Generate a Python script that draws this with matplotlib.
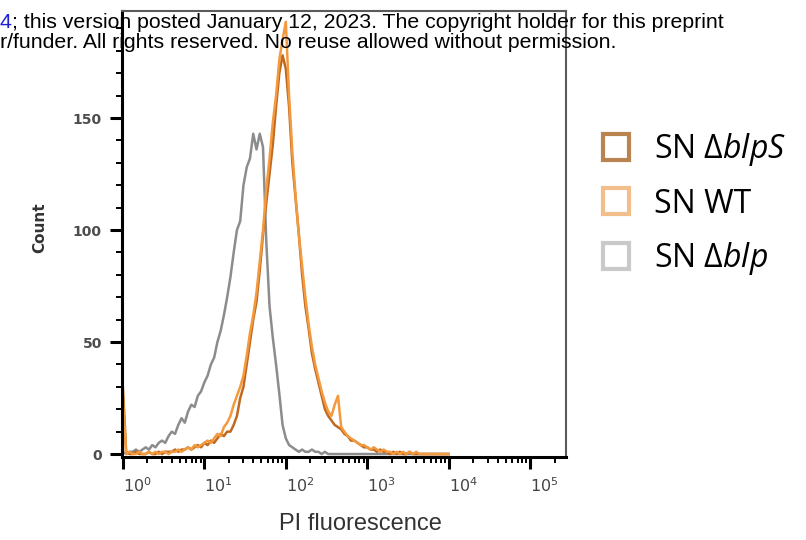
import numpy as np
import matplotlib
matplotlib.use("Agg")
import matplotlib.pyplot as plt
from matplotlib.lines import Line2D
from matplotlib.ticker import MultipleLocator, LogLocator, NullFormatter

# channel centres, log10(PI), one every 0.04 decade
log_channels = np.round(np.arange(0, 4.001, 0.04), 2)

count_blps = [30, 1, 0, 0, 1, 0, 0, 0, 1, 0,
              0, 1, 0, 1, 1, 1, 2, 1, 2, 2,
              3, 2, 3, 4, 3, 5, 4, 6, 5, 7,
              9, 8, 10, 10, 13, 17, 25, 30, 40, 50,
              60, 68, 82, 98, 112, 125, 138, 155, 170, 178,
              172, 155, 130, 114, 98, 80, 66, 56, 45, 38,
              32, 26, 20, 17, 15, 13, 12, 11, 9, 8,
              6, 6, 5, 4, 3, 3, 2, 2, 1, 2,
              1, 1, 0, 1, 0, 1, 0, 0, 1, 0,
              0, 0, 0, 0, 0, 0, 0, 0, 0, 0,
              0]

count_wt = [25, 0, 1, 0, 0, 1, 0, 0, 1, 0,
            1, 0, 1, 1, 0, 1, 1, 2, 1, 2,
            3, 2, 4, 3, 4, 5, 6, 5, 7, 9,
            8, 12, 14, 17, 22, 26, 30, 35, 44, 54,
            62, 72, 86, 100, 118, 132, 148, 160, 176, 185,
            193, 160, 135, 115, 98, 84, 70, 58, 48, 40,
            34, 28, 23, 19, 17, 22, 26, 12, 10, 8,
            7, 6, 5, 4, 4, 3, 2, 3, 2, 1,
            2, 1, 1, 0, 1, 0, 1, 0, 1, 0,
            1, 0, 0, 0, 0, 0, 0, 0, 0, 0,
            0]

count_blp = [1, 0, 1, 1, 2, 1, 2, 3, 2, 4,
             3, 5, 6, 5, 8, 10, 9, 13, 16, 14,
             19, 22, 21, 26, 28, 32, 35, 40, 43, 50,
             55, 62, 70, 79, 90, 100, 104, 120, 128, 132,
             143, 136, 143, 137, 95, 66, 52, 40, 27, 13,
             7, 4, 3, 2, 1, 2, 1, 1, 2, 1,
             1, 0, 1, 0, 0, 0, 0, 0, 0, 0,
             0, 0, 0, 0, 0, 0, 0, 0, 0, 0,
             0, 0, 0, 0, 0, 0, 0, 0, 0, 0,
             0, 0, 0, 0, 0, 0, 0, 0, 0, 0,
             0]

series_names = ["SN Δ$\\mathit{blpS}$", "SN WT", "SN Δ$\\mathit{blp}$"]
line_colors = ["#c0691f", "#f39a3f", "#8c8c8c"]
legend_colors = ["#b98450", "#f2bf8c", "#c9c9c9"]

xtick_values = [1, 10, 100, 1e3, 1e4, 1e5]
xtick_labels = [r"$10^{0}$", r"$10^{1}$", r"$10^{2}$", r"$10^{3}$", r"$10^{4}$", r"$10^{5}$"]
ytick_values = [0, 50, 100, 150]

plt.rcParams["mathtext.rm"] = "Open Sans"
plt.rcParams["mathtext.it"] = "Open Sans:italic"

fig = plt.figure(figsize=(8.06, 5.40), dpi=100)
ax = fig.add_axes([122 / 806, 1 - 456.5 / 540, 444 / 806, 445.5 / 540])

x = 10 ** log_channels
ax.plot(x, count_blp, color=line_colors[2], lw=1.8, zorder=2)
ax.plot(x, count_blps, color=line_colors[0], lw=1.8, zorder=2)
ax.plot(x, count_wt, color=line_colors[1], lw=1.8, zorder=2)

ax.set_xscale("log")
ax.set_xlim(0.975, 2.75e5)
ax.set_ylim(-1.1, 197.8)

ax.set_xticks(xtick_values)
ax.set_xticklabels(xtick_labels, ha="left")
ax.xaxis.set_minor_locator(LogLocator(base=10, subs=np.arange(2, 10), numticks=30))
ax.xaxis.set_minor_formatter(NullFormatter())
ax.set_yticks(ytick_values)
ax.yaxis.set_minor_locator(MultipleLocator(10))

for side in ["left", "bottom"]:
    ax.spines[side].set_linewidth(2.2)
    ax.spines[side].set_color("black")
for side in ["top", "right"]:
    ax.spines[side].set_linewidth(1.5)
    ax.spines[side].set_color("#5a5a5a")

ax.tick_params(which="major", direction="out", length=8.5, width=2.2, color="black")
ax.tick_params(which="minor", direction="out", length=4.2, width=1.4, color="black")
ax.tick_params(axis="y", labelsize=10, labelcolor="#4d4d4d", pad=6)
ax.tick_params(axis="x", labelsize=11.5, labelcolor="#444444", pad=6)
for lbl in ax.get_yticklabels():
    lbl.set_fontweight("bold")

ax.set_xlabel("PI fluorescence", fontsize=17, family="Liberation Sans", color="#333333")
ax.xaxis.set_label_coords((360 - 122) / 444, (456.5 - 524) / 445.5)
ax.xaxis.label.set_va("center")
ax.set_ylabel("Count", fontsize=11, fontweight="bold", color="#333333")
ax.yaxis.set_label_coords((40 - 122) / 444, (456.5 - 228) / 445.5)
ax.yaxis.label.set_va("center")

handles = [Line2D([], [], marker="s", linestyle="none", markersize=19,
                  markerfacecolor="white", markeredgecolor=c, markeredgewidth=3)
           for c in legend_colors]
leg = fig.legend(handles, series_names, loc="upper left",
                 bbox_to_anchor=(601 / 806, 1 - 131.5 / 540), frameon=False,
                 prop={"family": "Open Sans", "size": 23},
                 handlelength=0.95, handletextpad=0.72, labelspacing=0.6,
                 borderpad=0, borderaxespad=0)
for t in leg.get_texts():
    t.set_math_fontfamily("custom")

# preprint watermark running across the top
t1 = fig.text(0, 1 - 22 / 540, "4", color="#1f1fd6", fontsize=15.3,
              family="Liberation Sans", va="center")
ax.annotate("; this version posted January 12, 2023. The copyright holder for this preprint",
            xy=(1, 0.5), xycoords=t1, va="center", ha="left", fontsize=15.3,
            family="Liberation Sans", color="black", annotation_clip=False, zorder=5)
fig.text(0, 1 - 43 / 540, "r/funder. All rights reserved. No reuse allowed without permission.",
         fontsize=15.3, family="Liberation Sans", color="black", va="center", zorder=5)

fig.savefig("out.png", dpi=100)
